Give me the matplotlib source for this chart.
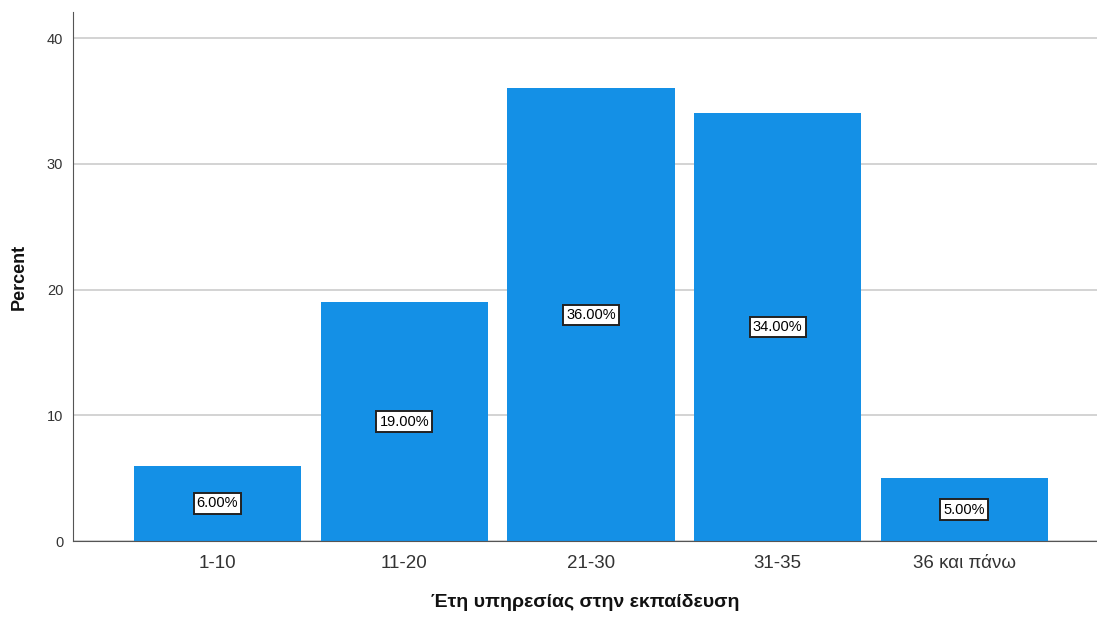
import matplotlib.pyplot as plt

categories = ['1-10', '11-20', '21-30', '31-35', '36 και πάνω']
percent = [6.0, 19.0, 36.0, 34.0, 5.0]
bar_labels = ['6.00%', '19.00%', '36.00%', '34.00%', '5.00%']

plt.rcParams['font.family'] = ['Liberation Sans', 'DejaVu Sans']

fig = plt.figure(figsize=(10.97, 6.17), dpi=100)
ax = fig.add_axes([0.0665, 0.123, 0.9335, 0.8576])

x = list(range(len(categories)))
bars = ax.bar(x, percent, width=0.895, color='#1490E6', zorder=2)

# labels in the middle of each bar
for xi, val, lab in zip(x, percent, bar_labels):
    ax.text(xi, val / 2, lab, ha='center', va='center', fontsize=10.5,
            color='black', zorder=3,
            bbox=dict(boxstyle='square,pad=0.22', facecolor='white',
                      edgecolor='#222222', linewidth=1.4))

ax.set_xlim(-0.774, 4.71)
ax.set_ylim(0, 42.07)
ax.set_yticks([0, 10, 20, 30, 40])
ax.yaxis.grid(True, color='#cccccc', linewidth=1.2, zorder=0)
ax.set_axisbelow(True)

ax.set_xticks(x)
ax.set_xticklabels(categories, fontsize=13.5, color='#333333')
ax.tick_params(axis='y', labelsize=10.5, length=0, pad=7,
               labelcolor='#333333')
ax.tick_params(axis='x', length=0, pad=10)

for side in ['top', 'right']:
    ax.spines[side].set_visible(False)
ax.spines['left'].set_color('#555555')
ax.spines['bottom'].set_color('#555555')

ax.set_xlabel('Έτη υπηρεσίας στην εκπαίδευση', fontsize=14, labelpad=16,
              fontweight='bold', color='#111111')
ax.set_ylabel('Percent', fontsize=13, fontweight='bold', labelpad=14,
              color='#111111')

fig.savefig('out.png', dpi=100)
